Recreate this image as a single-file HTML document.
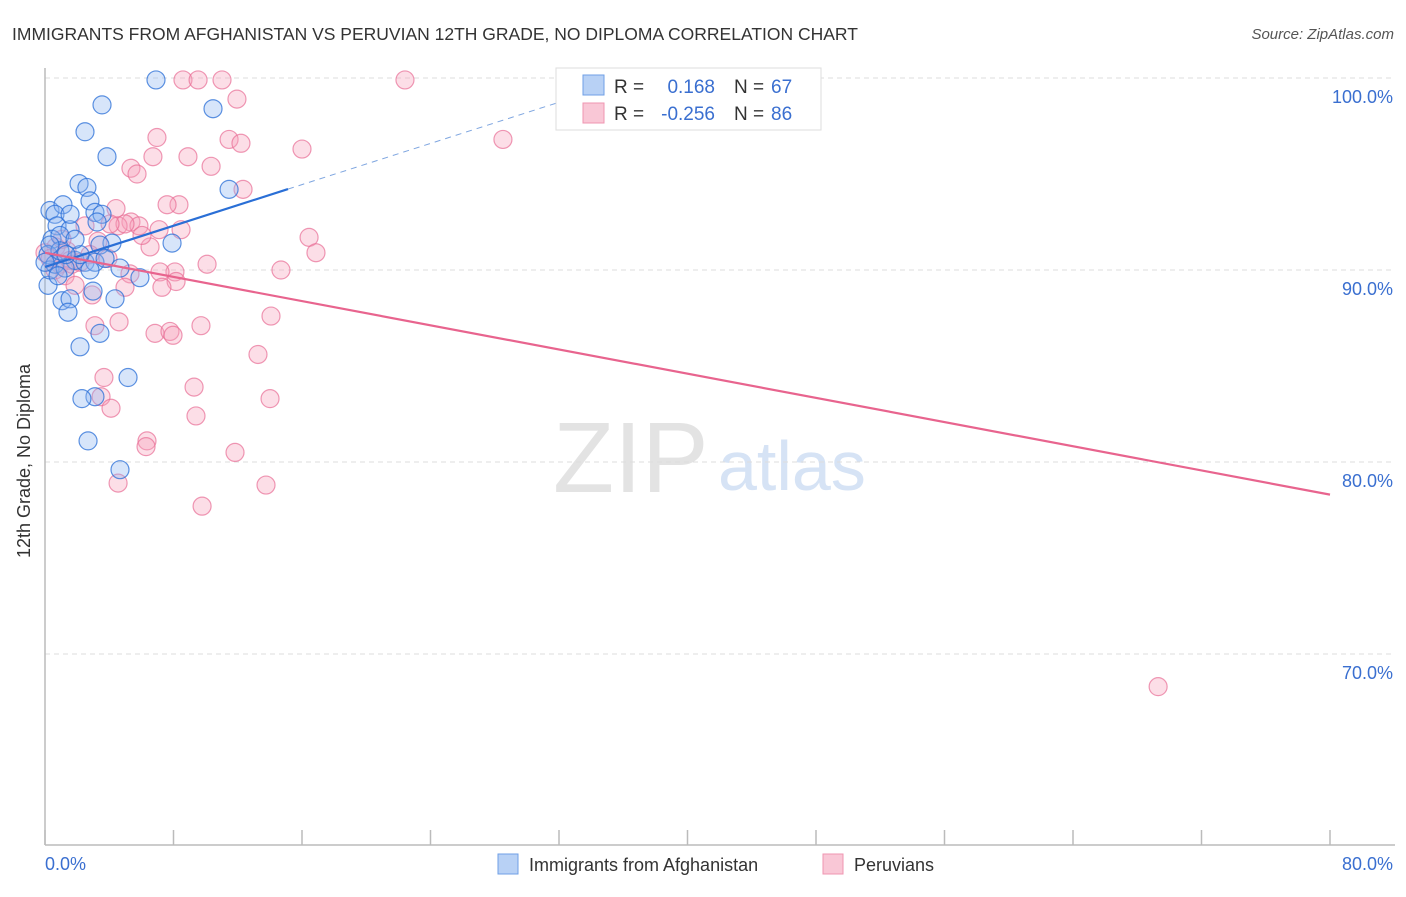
<!DOCTYPE html>
<html><head><meta charset="utf-8"><style>
body{margin:0;background:#fff;font-family:"Liberation Sans",sans-serif;}
svg text{font-family:"Liberation Sans",sans-serif;}
</style></head><body>
<svg width="1406" height="892" viewBox="0 0 1406 892" id="chart">
<text x="12" y="40" font-size="17.5" fill="#333">IMMIGRANTS FROM AFGHANISTAN VS PERUVIAN 12TH GRADE, NO DIPLOMA CORRELATION CHART</text>
<text x="1394" y="39" font-size="15" fill="#555" text-anchor="end" font-style="italic">Source: ZipAtlas.com</text>
<g>
<text x="553" y="492" font-size="100" fill="#e3e3e3" font-family="Liberation Serif, serif">ZIP</text>
<text x="718" y="490" font-size="70" fill="#d6e3f5">atlas</text>
</g>
<g id="grid"></g>
<line x1="45" y1="68" x2="45" y2="845" stroke="#bbb" stroke-width="1.5"/>
<line x1="45" y1="845" x2="1395" y2="845" stroke="#bbb" stroke-width="1.5"/>
<g id="xticks"></g>
<text x="24" y="455" font-size="18" fill="#333" text-anchor="middle" transform="rotate(-90 30 455)">12th Grade, No Diploma</text>
<text x="45" y="870" font-size="18" fill="#3a6fd0">0.0%</text>
<text x="1393" y="870" font-size="18" fill="#3a6fd0" text-anchor="end">80.0%</text>
<g id="pts"></g>
<g id="lines"></g>
<g>
<rect x="556" y="68" width="265" height="62" fill="#fff" stroke="#ddd"/>
<rect x="583" y="75" width="21" height="20" fill="#b8d1f5" stroke="#6f9fe6"/>
<rect x="583" y="103" width="21" height="20" fill="#f9c7d6" stroke="#ef95b0"/>
<text x="614" y="93" font-size="19" fill="#333">R =</text>
<text x="715" y="93" font-size="19" fill="#3a6fd0" text-anchor="end">0.168</text>
<text x="734" y="93" font-size="19" fill="#333">N =</text>
<text x="771" y="93" font-size="19" fill="#3a6fd0">67</text>
<text x="614" y="120" font-size="19" fill="#333">R =</text>
<text x="715" y="120" font-size="19" fill="#3a6fd0" text-anchor="end">-0.256</text>
<text x="734" y="120" font-size="19" fill="#333">N =</text>
<text x="771" y="120" font-size="19" fill="#3a6fd0">86</text>
</g>
<g>
<rect x="498" y="854" width="20" height="20" fill="#b8d1f5" stroke="#6f9fe6"/>
<text x="529" y="871" font-size="18" fill="#333">Immigrants from Afghanistan</text>
<rect x="823" y="854" width="20" height="20" fill="#f9c7d6" stroke="#ef95b0"/>
<text x="854" y="871" font-size="18" fill="#333">Peruvians</text>
</g>
</svg>
<script>
const yTicks=[100,90,80,70];
const yTickLabels=["100.0%","90.0%","80.0%","70.0%"];
const xTickVals=[0,8,16,24,32,40,48,56,64,72,80];
const blueX=[6.91,3.55,10.46,2.49,3.86,11.46,2.12,2.61,2.80,0.31,1.12,0.62,3.11,0.75,1.56,0.44,4.17,7.91,0.93,0.19,1.87,2.49,3.11,4.67,5.91,0.19,1.06,1.56,2.99,4.36,1.43,3.42,2.18,5.17,3.11,2.30,2.68,4.67,0.31,0.62,1.25,0.0,0.93,1.56,2.18,3.42,2.80,0.31,0.81,1.87,3.55,1.31,3.24,3.74];
const blueY=[99.9,98.6,98.4,97.2,95.9,94.2,94.5,94.3,93.6,93.1,93.4,92.9,93.0,92.3,92.1,91.6,91.4,91.4,91.8,90.8,90.5,90.4,90.4,90.1,89.6,89.2,88.4,88.5,88.9,88.5,87.8,86.7,86.0,84.4,83.4,83.3,81.1,79.6,90.0,90.3,90.1,90.4,91.0,92.9,90.8,91.3,90.0,91.3,89.7,91.6,92.9,90.8,92.5,90.6];
const pinkX=[8.59,9.53,11.02,22.41,11.95,28.51,6.97,11.46,12.20,16.00,6.72,8.90,10.34,5.35,5.73,12.33,8.34,7.60,4.42,5.35,5.85,4.55,8.47,7.10,2.49,3.30,6.54,16.44,16.87,0.68,0.0,1.37,10.09,14.69,8.09,5.29,7.16,8.16,7.28,4.98,2.93,14.07,9.71,3.11,4.61,6.85,7.78,7.97,13.26,3.67,9.28,3.49,14.01,4.11,9.40,6.35,6.29,11.83,4.55,13.76,9.78,69.30,0.93,1.56,0.62,1.25,2.18,2.80,0.31,1.87,1.06,3.92,6.04,1.68,4.98,4.05];
const pinkY=[99.9,99.9,99.9,99.9,98.9,96.8,96.9,96.8,96.6,96.3,95.9,95.9,95.4,95.3,95.0,94.2,93.4,93.4,93.2,92.5,92.3,92.3,92.1,92.1,92.3,91.5,91.2,91.7,90.9,91.2,90.9,91.0,90.3,90.0,89.9,89.8,89.9,89.4,89.1,89.1,88.7,87.6,87.1,87.1,87.3,86.7,86.8,86.6,85.6,84.4,83.9,83.4,83.3,82.8,82.4,81.1,80.8,80.5,78.9,78.8,77.7,68.3,90.3,90.5,90.0,89.7,90.4,90.8,90.6,89.2,91.6,90.6,91.8,90.3,92.4,92.4];
const blueTrend=[90.16,0.268];
const pinkTrend=[90.9,-0.1575];
const NS="http://www.w3.org/2000/svg";
const sx=v=>45+v*(1285/80);
const sy=v=>78+(100-v)*19.2;
function mk(tag,attrs,parent){const e=document.createElementNS(NS,tag);for(const k in attrs)e.setAttribute(k,attrs[k]);document.getElementById(parent).appendChild(e);return e;}
yTicks.forEach((t,i)=>{
 const l=mk('line',{x1:45,x2:1395,y1:sy(t),y2:sy(t),stroke:'#ddd','stroke-dasharray':'5,4'},'grid');
 
 
 const tx=mk('text',{x:1393,y:sy(t)+25,'font-size':18,fill:'#3a6fd0','text-anchor':'end'},'grid');
 tx.textContent=yTickLabels[i];
 
 
});
xTickVals.forEach(t=>{
 const l=mk('line',{x1:sx(t),x2:sx(t),y1:830,y2:845,stroke:'#bbb','stroke-width':1.5},'xticks');
 
 
});
pinkX.forEach((x,i)=>{
 const c=mk('circle',{cx:sx(x),cy:sy(pinkY[i]),r:9,fill:'rgba(245,160,185,0.35)',stroke:'rgba(232,110,150,0.7)','stroke-width':1.2},'pts');
 
 
});
blueX.forEach((x,i)=>{
 const c=mk('circle',{cx:sx(x),cy:sy(blueY[i]),r:9,fill:'rgba(140,180,240,0.35)',stroke:'rgba(40,110,215,0.75)','stroke-width':1.2},'pts');
 
 
});
const bl=mk('line',{x1:sx(0),y1:sy(blueTrend[0]),x2:sx(15.13),y2:sy(blueTrend[0]+blueTrend[1]*15.13),stroke:'#2a6fd6','stroke-width':2.2},'lines');


const bd=mk('line',{x1:sx(15.13),y1:sy(blueTrend[0]+blueTrend[1]*15.13),x2:sx(34),y2:sy(blueTrend[0]+blueTrend[1]*34),stroke:'#7fa6e0','stroke-width':1,'stroke-dasharray':'6,5'},'lines');


const pl=mk('line',{x1:sx(0),y1:sy(pinkTrend[0]),x2:sx(80),y2:sy(pinkTrend[0]+pinkTrend[1]*80),stroke:'#e8648e','stroke-width':2.2},'lines');


</script>
</body></html>
